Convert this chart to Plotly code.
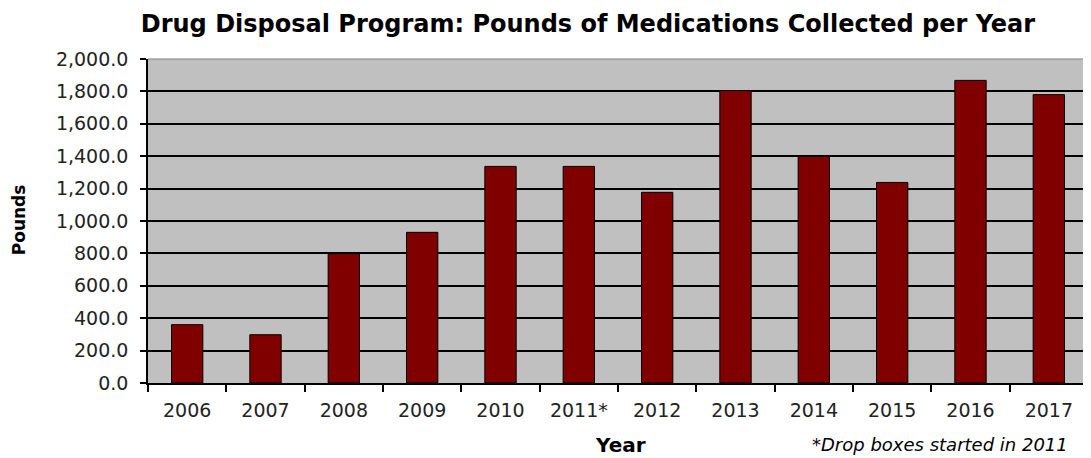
import plotly.graph_objects as go

years = ["2006", "2007", "2008", "2009", "2010", "2011*", "2012", "2013", "2014", "2015", "2016", "2017"]
pounds = [360, 298, 798, 930, 1337, 1337, 1177, 1805, 1399, 1238, 1868, 1780]
y_ticks = [0, 200, 400, 600, 800, 1000, 1200, 1400, 1600, 1800, 2000]

fig = go.Figure()
fig.add_trace(go.Bar(
    x=years, y=pounds,
    marker=dict(color="#800000", line=dict(color="#000000", width=1)),
    width=0.4,
))

font = "DejaVu Sans, Liberation Sans, Arial, sans-serif"
# page body adds an 8px offset, so the figure is 8px smaller than the window
fig.update_layout(
    width=1083, height=450,
    margin=dict(l=140, r=3, t=51, b=75),
    paper_bgcolor="white",
    plot_bgcolor="#C0C0C0",
    showlegend=False,
    title=dict(text="<b>Drug Disposal Program: Pounds of Medications Collected per Year</b>",
               x=0.5355, xanchor="center", y=0.966, yanchor="middle",
               font=dict(family=font, size=24, color="#000000")),
    font=dict(family=font, color="#222222"),
)
fig.update_xaxes(
    type="category",
    showline=True, linecolor="#000000", linewidth=1.5,
    ticks="outside", tickson="boundaries", ticklen=7, tickcolor="#000000", tickwidth=1.5,
    tickfont=dict(size=19, color="#222222"), ticklabelstandoff=9,
    mirror=False, showgrid=False,
)
fig.update_yaxes(
    range=[0, 2000], tickvals=y_ticks, tickformat=",.1f",
    showline=True, linecolor="#000000", linewidth=1.5,
    ticks="outside", ticklen=6, tickcolor="#000000", tickwidth=1.5,
    tickfont=dict(size=19, color="#222222"), ticklabelstandoff=8,
    showgrid=True, gridcolor="#000000", gridwidth=1.5,
    zeroline=False,
)
# plot-area border on top and right (thin gray)
fig.add_shape(type="line", xref="paper", yref="paper", x0=0, x1=1, y0=1, y1=1,
              line=dict(color="#808080", width=1))
fig.add_shape(type="line", xref="paper", yref="paper", x0=1, x1=1, y0=0, y1=1,
              line=dict(color="#808080", width=1))
fig.add_annotation(text="<b>Year</b>", xref="paper", yref="paper",
                   x=0.503, y=-0.191, xanchor="center", yanchor="middle", showarrow=False,
                   font=dict(family=font, size=20, color="#000000"))
fig.add_annotation(text="<b>Pounds</b>", xref="paper", yref="paper", textangle=-90,
                   x=-0.137, y=0.503, xanchor="center", yanchor="middle", showarrow=False,
                   font=dict(family=font, size=17, color="#000000"))
fig.add_annotation(text="<i>*Drop boxes started in 2011</i>", xref="paper", yref="paper",
                   x=0.9807, y=-0.191, xanchor="right", yanchor="middle", showarrow=False,
                   font=dict(family=font, size=18, color="#000000"))
fig.write_html("out.html")
